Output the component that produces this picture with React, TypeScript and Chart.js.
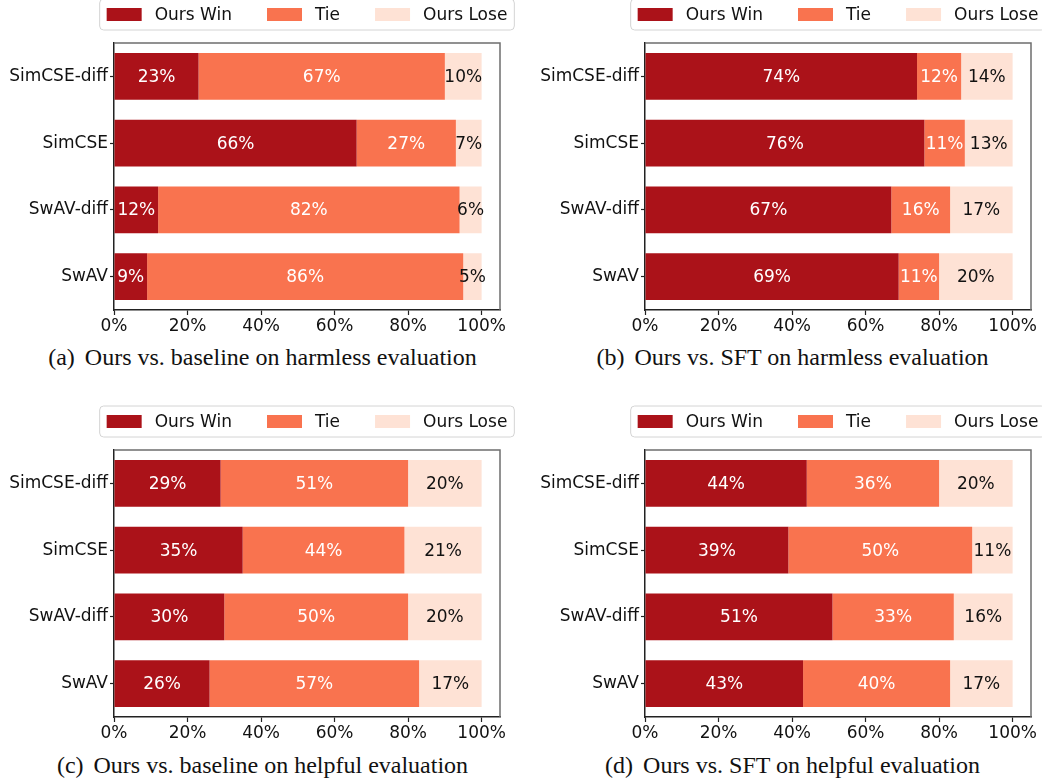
import React, { useEffect, useRef } from 'react';
import { Chart, registerables } from 'chart.js';

Chart.register(...registerables);

const categories = ['SimCSE-diff', 'SimCSE', 'SwAV-diff', 'SwAV'];
const seriesNames = ['Ours Win', 'Tie', 'Ours Lose'];
const xTicks = [0, 20, 40, 60, 80, 100];

const winA = [23, 66, 12, 9];
const tieA = [67, 27, 82, 86];
const loseA = [10, 7, 6, 5];

const winB = [74, 76, 67, 69];
const tieB = [12, 11, 16, 11];
const loseB = [14, 13, 17, 20];

const winC = [29, 35, 30, 26];
const tieC = [51, 44, 50, 57];
const loseC = [20, 21, 20, 17];

const winD = [44, 39, 51, 43];
const tieD = [36, 50, 33, 40];
const loseD = [20, 11, 16, 17];

const captionTags = ['(a)', '(b)', '(c)', '(d)'];
const captionTexts = [
  'Ours vs. baseline on harmless evaluation',
  'Ours vs. SFT on harmless evaluation',
  'Ours vs. baseline on helpful evaluation',
  'Ours vs. SFT on helpful evaluation',
];

const COLORS = ['#ab1219', '#f9734f', '#fee2d5'];
const LABEL_COLORS = ['#ffffff', '#ffffff', '#111111'];
const FONT = "'DejaVu Sans', sans-serif";
const FONT_SIZE = 17;

const legendPlugin = {
  id: 'boxLegend',
  afterDraw(chart: any) {
    const { ctx, chartArea } = chart;
    ctx.save();
    ctx.font = `${FONT_SIZE}px ${FONT}`;
    const patchW = 35, patchH = 13, innerPad = 7, textGap = 13, itemGap = 35;
    const widths = seriesNames.map((n) => ctx.measureText(n).width);
    const total =
      innerPad * 2 +
      widths.reduce((s: number, w: number) => s + patchW + textGap + w, 0) +
      itemGap * (seriesNames.length - 1);
    const cx = (chartArea.left + chartArea.right) / 2;
    const left = cx - total / 2;
    const top = chartArea.top - 44;
    const h = 31;
    const r = 4;
    ctx.beginPath();
    ctx.moveTo(left + r, top);
    ctx.lineTo(left + total - r, top);
    ctx.arcTo(left + total, top, left + total, top + r, r);
    ctx.lineTo(left + total, top + h - r);
    ctx.arcTo(left + total, top + h, left + total - r, top + h, r);
    ctx.lineTo(left + r, top + h);
    ctx.arcTo(left, top + h, left, top + h - r, r);
    ctx.lineTo(left, top + r);
    ctx.arcTo(left, top, left + r, top, r);
    ctx.closePath();
    ctx.fillStyle = '#ffffff';
    ctx.fill();
    ctx.strokeStyle = '#d4d4d4';
    ctx.lineWidth = 1;
    ctx.stroke();
    let x = left + innerPad;
    const cy = top + h / 2;
    ctx.textBaseline = 'middle';
    ctx.textAlign = 'left';
    seriesNames.forEach((n, i) => {
      ctx.fillStyle = COLORS[i];
      ctx.fillRect(x, cy - patchH / 2, patchW, patchH);
      x += patchW + textGap;
      ctx.fillStyle = '#111111';
      ctx.fillText(n, x, cy + 1);
      x += widths[i] + itemGap;
    });
    ctx.restore();
  },
};

const barLabelPlugin = {
  id: 'barLabels',
  afterDatasetsDraw(chart: any) {
    const { ctx } = chart;
    ctx.save();
    ctx.font = `${FONT_SIZE}px ${FONT}`;
    ctx.textAlign = 'center';
    ctx.textBaseline = 'middle';
    chart.data.datasets.forEach((ds: any, di: number) => {
      const meta = chart.getDatasetMeta(di);
      meta.data.forEach((el: any, i: number) => {
        const { x, y, base } = el.getProps(['x', 'y', 'base'], true);
        ctx.fillStyle = LABEL_COLORS[di];
        ctx.fillText(`${ds.data[i]}%`, (x + base) / 2, y + 1);
      });
    });
    ctx.restore();
  },
};

const framePlugin = {
  id: 'frame',
  afterDraw(chart: any) {
    const { ctx, chartArea } = chart;
    ctx.save();
    ctx.strokeStyle = '#6e6e6e';
    ctx.lineWidth = 1.5;
    ctx.beginPath();
    ctx.moveTo(chartArea.left, chartArea.top);
    ctx.lineTo(chartArea.right, chartArea.top);
    ctx.lineTo(chartArea.right, chartArea.bottom);
    ctx.stroke();
    ctx.restore();
  },
};

type PanelProps = {
  win: number[];
  tie: number[];
  lose: number[];
  left: number;
  top: number;
  axisWidth: number;
  rightPad: number;
};

const CW = 521;
const CH = 360;

function Panel({ win, tie, lose, left, top, axisWidth, rightPad }: PanelProps) {
  const ref = useRef<HTMLCanvasElement | null>(null);
  useEffect(() => {
    if (!ref.current) return;
    const values = [win, tie, lose];
    const chart = new Chart(ref.current, {
      type: 'bar',
      data: {
        labels: categories,
        datasets: seriesNames.map((name, i) => ({
          label: name,
          data: values[i],
          backgroundColor: COLORS[i],
          borderWidth: 0,
          barPercentage: 0.7,
          categoryPercentage: 1,
        })),
      },
      options: {
        indexAxis: 'y',
        responsive: false,
        animation: false,
        devicePixelRatio: 1,
        layout: { padding: { top: 63, right: rightPad, bottom: 5, left: 0 } },
        plugins: {
          legend: { display: false },
          tooltip: { enabled: false },
          title: { display: false },
        },
        scales: {
          x: {
            stacked: true,
            min: 0,
            max: 105,
            afterBuildTicks: (s: any) => {
              s.ticks = xTicks.map((v) => ({ value: v }));
            },
            afterFit: (s: any) => {
              s.height = 25;
              s.paddingLeft = 0;
              s.paddingRight = 0;
            },
            ticks: {
              callback: (v: any) => `${v}%`,
              font: { family: FONT, size: FONT_SIZE },
              color: '#111111',
              padding: 1,
              maxRotation: 0,
              autoSkip: false,
            },
            grid: {
              drawOnChartArea: false,
              drawTicks: true,
              tickLength: 5,
              tickColor: '#222222',
              tickWidth: 1.2,
            },
            border: { display: true, color: '#222222', width: 1.5 },
          },
          y: {
            stacked: true,
            afterFit: (s: any) => {
              s.width = axisWidth;
              s.paddingTop = 0;
              s.paddingBottom = 0;
            },
            ticks: {
              font: { family: FONT, size: FONT_SIZE },
              color: '#111111',
              padding: 2,
              autoSkip: false,
            },
            grid: {
              offset: false,
              drawOnChartArea: false,
              drawTicks: true,
              tickLength: 4,
              tickColor: '#222222',
              tickWidth: 1.2,
            },
            border: { display: true, color: '#222222', width: 1.5 },
          },
        },
      },
      plugins: [barLabelPlugin, framePlugin, legendPlugin],
    } as any);
    return () => chart.destroy();
  }, []);
  return (
    <canvas
      ref={ref}
      width={CW}
      height={CH}
      style={{ position: 'absolute', left, top, width: CW, height: CH }}
    />
  );
}

function Caption({ idx, left, top }: { idx: number; left: number; top: number }) {
  return (
    <div
      style={{
        position: 'absolute',
        left,
        top,
        width: CW,
        height: 28,
        lineHeight: '28px',
        textAlign: 'center',
        fontFamily: "'Liberation Serif', 'Times New Roman', serif",
        fontSize: 24,
        color: '#111111',
        whiteSpace: 'nowrap',
      }}
    >
      <span>{captionTags[idx]}</span>
      <span style={{ marginLeft: 10 }}>{captionTexts[idx]}</span>
    </div>
  );
}

export default function App() {
  return (
    <div
      style={{
        position: 'absolute',
        left: 0,
        top: 0,
        width: 1042,
        height: 782,
        overflow: 'hidden',
        background: '#ffffff',
      }}
    >
      <Panel win={winA} tie={tieA} lose={loseA} left={0} top={-20} axisWidth={114} rightPad={21} />
      <Panel win={winB} tie={tieB} lose={loseB} left={521} top={-20} axisWidth={124} rightPad={11} />
      <Panel win={winC} tie={tieC} lose={loseC} left={0} top={387} axisWidth={114} rightPad={21} />
      <Panel win={winD} tie={tieD} lose={loseD} left={521} top={387} axisWidth={124} rightPad={11} />
      <Caption idx={0} left={2} top={343} />
      <Caption idx={1} left={532} top={343} />
      <Caption idx={2} left={2} top={751} />
      <Caption idx={3} left={532} top={751} />
    </div>
  );
}
